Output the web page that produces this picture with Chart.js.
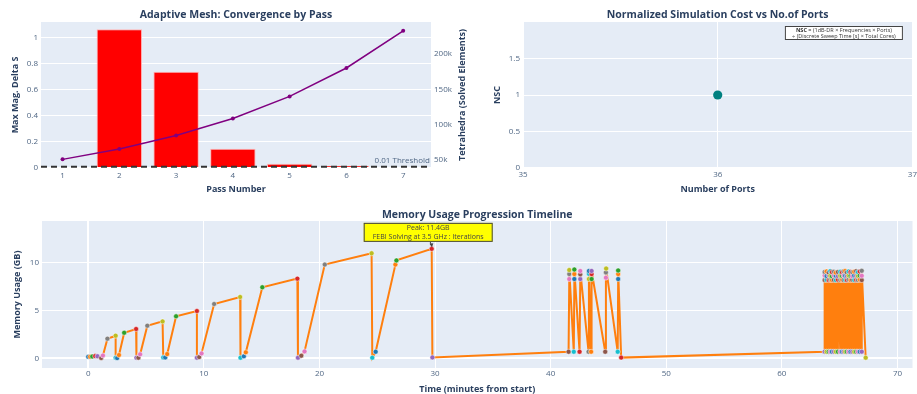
<!DOCTYPE html>
<html>
<head>
<meta charset="utf-8">
<script src="https://cdn.jsdelivr.net/npm/chart.js@4.4.0/dist/chart.umd.min.js"></script>
<style>
  body { margin: 0; background: #fff; width: 917px; height: 394px; overflow: hidden; position: relative; }
  canvas { position: absolute; }
</style>
</head>
<body>
<canvas id="meshChart" width="470" height="200" style="left:0;top:0"></canvas>
<canvas id="nscChart" width="447" height="200" style="left:470px;top:0"></canvas>
<canvas id="memChart" width="917" height="194" style="left:0;top:200px"></canvas>
<script>
// adaptive mesh passes
var passNumbers = [1, 2, 3, 4, 5, 6, 7];
var maxDeltaS = [null, 1.064, 0.737, 0.148, 0.033, 0.018, 0.008];
var tetrahedra = [50900, 65600, 84500, 108700, 139900, 180000, 232600];
var deltaThreshold = 0.01;
var deltaTicks = [0, 0.2, 0.4, 0.6, 0.8, 1];
var tetraTicks = [50000, 100000, 150000, 200000];

// normalized simulation cost
var portCounts = [36];
var nscValues = [1];
var portTicks = [35, 36, 37];
var nscTicks = [0, 0.5, 1, 1.5];

// memory timeline (minutes, GB)
var timeMin = [
  0.00, 0.17, 0.35, 0.60, 0.80, 1.12, 1.27, 1.66, 2.37, 2.37, 2.50, 2.66, 3.11, 4.14, 4.17, 4.34, 4.49,
  5.11, 6.43, 6.49, 6.66, 6.83, 7.60, 9.40, 9.40, 9.60, 9.80, 10.89, 13.14, 13.17, 13.46, 13.63,
  15.06, 18.09, 18.14, 18.43, 18.71, 20.46, 24.51, 24.57, 24.86, 26.57, 26.66, 29.71, 29.77,
  // first frequency sweep block
  41.55, 41.61, 41.61, 41.61, 42.00, 42.05, 42.05, 42.05, 42.50, 42.56, 42.56, 42.56,
  43.28, 43.31, 43.31, 43.31, 43.50, 43.54, 43.54, 43.54, 44.72, 44.78, 44.78, 44.80,
  45.80, 45.84, 45.84, 45.84, 46.10,
  // second frequency sweep block
  63.70, 63.70, 63.70, 63.70, 63.87, 63.87, 63.87, 63.87, 64.05, 64.05, 64.05, 64.05,
  64.19, 64.19, 64.19, 64.19, 64.33, 64.33, 64.33, 64.33, 64.50, 64.50, 64.50, 64.50,
  64.67, 64.67, 64.67, 64.67, 64.85, 64.85, 64.85, 64.85, 65.05, 65.05, 65.05, 65.05,
  65.20, 65.20, 65.20, 65.20, 65.34, 65.34, 65.34, 65.34,
  65.48, 65.48, 65.48, 65.48, 65.62, 65.62, 65.62, 65.62, 65.77, 65.77, 65.77, 65.77,
  65.94, 65.94, 65.94, 65.94, 66.09, 66.09, 66.09, 66.09, 66.26, 66.26, 66.26, 66.26,
  66.43, 66.43, 66.43, 66.43, 66.57, 66.57, 66.57, 66.57, 66.74, 66.74, 66.74, 66.74,
  66.91, 66.91, 66.91, 66.91, 67.25
];
var memGB = [
  0.17, 0.18, 0.20, 0.24, 0.22, 0.04, 0.30, 2.05, 2.36, 0.07, 0.03, 0.35, 2.67, 3.06, 0.07, 0.07, 0.42,
  3.40, 3.85, 0.10, 0.10, 0.45, 4.38, 4.93, 0.07, 0.14, 0.52, 5.66, 6.39, 0.07, 0.21, 0.63,
  7.40, 8.30, 0.07, 0.28, 0.73, 9.76, 10.94, 0.07, 0.69, 9.76, 10.20, 11.40, 0.10,
  0.69, 8.26, 8.78, 9.20, 0.69, 8.26, 8.78, 9.25, 0.69, 8.26, 8.75, 9.10,
  0.69, 8.26, 8.80, 9.10, 0.69, 8.26, 8.78, 9.10, 0.69, 8.40, 8.95, 9.35,
  0.69, 8.26, 8.78, 9.15, 0.08,
  0.70, 8.15, 8.62, 9.00, 0.70, 8.18, 8.58, 9.05, 0.70, 8.15, 8.65, 8.95,
  0.70, 8.20, 8.60, 9.08, 0.70, 8.15, 8.55, 8.98, 0.70, 8.17, 8.63, 9.02,
  0.70, 8.15, 8.60, 8.92, 0.70, 8.19, 8.57, 9.00, 0.70, 8.16, 8.61, 9.03,
  0.70, 8.18, 8.59, 8.97, 0.70, 8.15, 8.64, 9.06,
  0.70, 8.16, 8.60, 9.10, 0.70, 8.15, 8.58, 8.96, 0.70, 8.20, 8.62, 9.04,
  0.70, 8.15, 8.60, 9.00, 0.70, 8.18, 8.56, 8.97, 0.70, 8.15, 8.63, 9.03,
  0.70, 8.17, 8.60, 9.08, 0.70, 8.15, 8.59, 8.99, 0.70, 8.19, 8.62, 9.05,
  0.70, 8.15, 8.60, 9.12, 0.07
];
var timeTicks = [0, 10, 20, 30, 40, 50, 60, 70];
var memTicks = [0, 5, 10];
var peakStage = 'FEBI Solving at 3.5 GHz : Iterations';

var FONT = '"Open Sans", sans-serif';
var TITLE_COLOR = '#2a3f5f';
var TICK_COLOR = '#506784';
var stageColors = ['#1f77b4', '#ff7f0e', '#2ca02c', '#d62728', '#9467bd',
                   '#8c564b', '#e377c2', '#7f7f7f', '#bcbd22', '#17becf'];

Chart.defaults.animation = false;
Chart.defaults.font.family = FONT;
Chart.defaults.plugins.legend.display = false;
Chart.defaults.plugins.tooltip.enabled = false;

function fixWidth(w) {
  return function(s) { s.width = w; s.paddingTop = s.paddingBottom = s.paddingLeft = s.paddingRight = 0; };
}
function fixHeight(h) {
  return function(s) { s.height = h; s.paddingTop = s.paddingBottom = s.paddingLeft = s.paddingRight = 0; };
}
function useTicks(arr) {
  return function(s) { s.ticks = arr.map(function(v) { return { value: v }; }); };
}
function zeroWide(ctx) { return ctx.tick && ctx.tick.value === 0 ? 2 : 1; }
function plain(v) { return String(v); }

function drawText(c, text, x, y, font, color, rot, align) {
  c.save();
  c.translate(x, y);
  if (rot) c.rotate(rot);
  c.font = font;
  c.fillStyle = color;
  c.textAlign = align || 'center';
  c.textBaseline = 'middle';
  c.fillText(text, 0, 0);
  c.restore();
}

var plotBg = {
  id: 'plotBg',
  beforeDraw: function(chart) {
    var a = chart.chartArea, c = chart.ctx;
    c.save();
    c.fillStyle = '#e5ecf6';
    c.fillRect(a.left, a.top, a.right - a.left, a.bottom - a.top);
    c.restore();
  }
};

// titles: chart title, x title, left/right y titles
function titlesPlugin(title, xTitle, yTitle, yX, y2Title, y2X) {
  return {
    id: 'titles',
    afterDraw: function(chart) {
      var a = chart.chartArea, c = chart.ctx;
      var cx = (a.left + a.right) / 2, cy = (a.top + a.bottom) / 2;
      drawText(c, title, cx, 15, 'bold 10.5px ' + FONT, TITLE_COLOR);
      drawText(c, xTitle, cx, a.bottom + 21, 'bold 9px ' + FONT, TITLE_COLOR);
      drawText(c, yTitle, yX, cy, 'bold 9px ' + FONT, TITLE_COLOR, -Math.PI / 2);
      if (y2Title) drawText(c, y2Title, y2X, cy, 'bold 9px ' + FONT, TITLE_COLOR, -Math.PI / 2);
    }
  };
}

function axisTicks(cb) {
  return { color: TICK_COLOR, font: { size: 8, family: FONT }, padding: 3, callback: cb || plain };
}

// ---------- adaptive mesh convergence ----------
var threshold = {
  id: 'threshold',
  afterDatasetsDraw: function(chart) {
    var a = chart.chartArea, c = chart.ctx;
    var y = chart.scales.y.getPixelForValue(deltaThreshold);
    c.save();
    c.strokeStyle = '#333';
    c.lineWidth = 2;
    c.setLineDash([6, 4]);
    c.beginPath();
    c.moveTo(a.left, y);
    c.lineTo(a.right, y);
    c.stroke();
    c.restore();
    drawText(chart.ctx, deltaThreshold + ' Threshold', a.right - 1, y - 5.5, '8px ' + FONT, TICK_COLOR, 0, 'right');
  }
};

new Chart(document.getElementById('meshChart'), {
  type: 'bar',
  data: {
    datasets: [{
      type: 'line',
      data: passNumbers.map(function(p, i) { return { x: p, y: tetrahedra[i] }; }),
      yAxisID: 'y1',
      borderColor: '#800080',
      borderWidth: 1.5,
      pointRadius: 2,
      pointBorderWidth: 0,
      pointBackgroundColor: '#800080',
      order: 0
    }, {
      type: 'bar',
      data: passNumbers.map(function(p, i) { return { x: p, y: maxDeltaS[i] }; }),
      yAxisID: 'y',
      backgroundColor: '#ff0000',
      borderColor: '#ffb3b3',
      borderWidth: 1,
      barPercentage: 1,
      categoryPercentage: 0.8,
      order: 1
    }]
  },
  options: {
    responsive: false,
    devicePixelRatio: 1,
    layout: { padding: { top: 22, left: 0, right: 0, bottom: 0 } },
    scales: {
      x: {
        type: 'linear', min: 0.62, max: 7.49, offset: false,
        grid: { display: false, drawTicks: false, offset: false },
        border: { display: false },
        ticks: axisTicks(),
        afterBuildTicks: useTicks(passNumbers),
        afterFit: fixHeight(32)
      },
      y: {
        position: 'left', min: 0, max: 1.119,
        grid: { color: '#ffffff', drawTicks: false, lineWidth: zeroWide },
        border: { display: false },
        ticks: axisTicks(),
        afterBuildTicks: useTicks(deltaTicks),
        afterFit: fixWidth(41)
      },
      y1: {
        position: 'right', min: 38700, max: 245000,
        grid: { display: false, drawTicks: false },
        border: { display: false },
        ticks: axisTicks(function(v) { return (v / 1000) + 'k'; }),
        afterBuildTicks: useTicks(tetraTicks),
        afterFit: fixWidth(39)
      }
    }
  },
  plugins: [plotBg, threshold,
    titlesPlugin('Adaptive Mesh: Convergence by Pass', 'Pass Number', 'Max Mag. Delta S', 15,
                 'Tetrahedra (Solved Elements)', 462)]
});

// ---------- normalized simulation cost ----------
var nscNote = {
  id: 'nscNote',
  afterDraw: function(chart) {
    var a = chart.chartArea, c = chart.ctx;
    var right = a.right - 9.5, left = right - 118, top = 26, h = 14;
    c.save();
    c.fillStyle = '#ffffff';
    c.fillRect(left, top, right - left, h);
    c.strokeStyle = '#444';
    c.lineWidth = 1;
    c.strokeRect(left + 0.5, top + 0.5, right - left - 1, h - 1);
    var cx = (left + right) / 2;
    var bold = 'bold 5.5px ' + FONT, reg = '5.5px ' + FONT;
    var p1 = 'NSC', p2 = ' = (1dB-DR \u00d7 Frequencies \u00d7 Ports)';
    c.font = bold; var w1 = c.measureText(p1).width;
    c.font = reg; var w2 = c.measureText(p2).width;
    var x0 = cx - (w1 + w2) / 2;
    c.fillStyle = '#333';
    c.textBaseline = 'middle';
    c.textAlign = 'left';
    c.font = bold; c.fillText(p1, x0, top + 4.2);
    c.font = reg; c.fillText(p2, x0 + w1, top + 4.2);
    c.textAlign = 'center';
    c.fillText('\u00f7 (Discrete Sweep Time [s] \u00d7 Total Cores)', cx, top + 10.2);
    c.restore();
  }
};

new Chart(document.getElementById('nscChart'), {
  type: 'scatter',
  data: {
    datasets: [{
      data: portCounts.map(function(p, i) { return { x: p, y: nscValues[i] }; }),
      backgroundColor: '#008080',
      borderColor: '#008080',
      pointRadius: 4.6,
      pointBorderWidth: 0
    }]
  },
  options: {
    responsive: false,
    devicePixelRatio: 1,
    layout: { padding: { top: 22, left: 0, right: 1.5, bottom: 0 } },
    scales: {
      x: {
        type: 'linear', min: 35, max: 37,
        grid: { color: '#ffffff', drawTicks: false },
        border: { display: false },
        ticks: Object.assign(axisTicks(), { padding: 2 }),
        afterBuildTicks: useTicks(portTicks),
        afterFit: fixHeight(32)
      },
      y: {
        min: 0, max: 2,
        grid: { color: '#ffffff', drawTicks: false, lineWidth: zeroWide },
        border: { display: false },
        ticks: axisTicks(),
        afterBuildTicks: useTicks(nscTicks),
        afterFit: fixWidth(53)
      }
    }
  },
  plugins: [plotBg, nscNote,
    titlesPlugin('Normalized Simulation Cost vs No.of Ports', 'Number of Ports', 'NSC', 27)]
});

// ---------- memory usage timeline ----------
var peakNote = {
  id: 'peakNote',
  afterDatasetsDraw: function(chart) {
    var c = chart.ctx;
    var k = 0;
    for (var i = 1; i < memGB.length; i++) if (memGB[i] > memGB[k]) k = i;
    var px = chart.scales.x.getPixelForValue(timeMin[k]);
    var py = chart.scales.y.getPixelForValue(memGB[k]);
    var left = px - 68, top = py - 26, w = 129, h = 19;
    c.save();
    // arrow to the peak point
    c.strokeStyle = '#444';
    c.fillStyle = '#444';
    c.lineWidth = 1;
    c.beginPath();
    c.moveTo(px - 1.5, top + h);
    c.lineTo(px, py - 2.5);
    c.stroke();
    c.beginPath();
    c.moveTo(px + 0.3, py - 1.5);
    c.lineTo(px - 2.2, py - 5);
    c.lineTo(px + 1.6, py - 5.6);
    c.closePath();
    c.fill();
    c.fillStyle = '#ffff00';
    c.fillRect(left, top, w, h);
    c.strokeRect(left + 0.5, top + 0.5, w - 1, h - 1);
    c.restore();
    drawText(c, 'Peak: ' + memGB[k] + 'GB', left + w / 2, top + 5.5, '7px ' + FONT, '#444');
    drawText(c, peakStage, left + w / 2, top + 13.8, '7px ' + FONT, '#444');
  }
};

new Chart(document.getElementById('memChart'), {
  type: 'scatter',
  data: {
    datasets: [{
      data: timeMin.map(function(t, i) { return { x: t, y: memGB[i] }; }),
      showLine: true,
      tension: 0,
      borderColor: '#ff7f0e',
      borderWidth: 2,
      pointRadius: 2.5,
      pointBorderWidth: 0.5,
      pointBorderColor: '#ffffff',
      pointBackgroundColor: timeMin.map(function(t, i) { return stageColors[i % stageColors.length]; })
    }]
  },
  options: {
    responsive: false,
    devicePixelRatio: 1,
    layout: { padding: { top: 21, left: 0, right: 2, bottom: 0 } },
    scales: {
      x: {
        type: 'linear', min: -4, max: 71.3,
        grid: { color: '#ffffff', drawTicks: false, lineWidth: zeroWide },
        border: { display: false },
        ticks: Object.assign(axisTicks(), { padding: 1 }),
        afterBuildTicks: useTicks(timeTicks),
        afterFit: fixHeight(26)
      },
      y: {
        min: -1, max: 14.3,
        grid: { color: '#ffffff', drawTicks: false, lineWidth: zeroWide },
        border: { display: false },
        ticks: axisTicks(),
        afterBuildTicks: useTicks(memTicks),
        afterFit: fixWidth(42)
      }
    }
  },
  plugins: [plotBg, peakNote,
    titlesPlugin('Memory Usage Progression Timeline', 'Time (minutes from start)', 'Memory Usage (GB)', 17)]
});
</script>
</body>
</html>
